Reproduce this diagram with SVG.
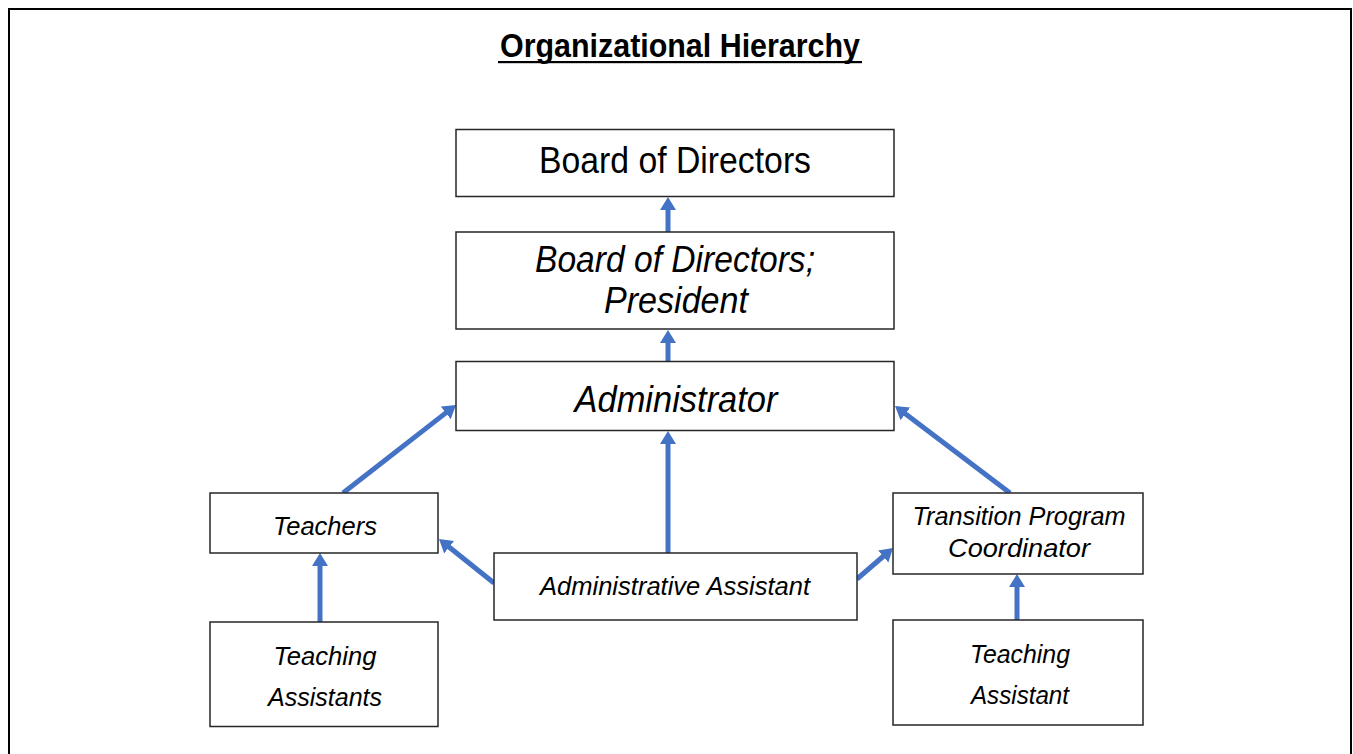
<svg xmlns="http://www.w3.org/2000/svg" width="1353" height="754" viewBox="0 0 1353 754">
  <style>
    .box { fill: #ffffff; stroke: #262626; stroke-width: 1.5; }
    .t { font-family: "Liberation Sans", Arial, sans-serif; fill: #000000; text-anchor: middle; }
    .it { font-style: italic; }
    .big { font-size: 36px; }
    .sm { font-size: 26.5px; }
    .arr { stroke: #4472C4; stroke-width: 5; fill: none; marker-end: url(#ah); }
  </style>
  <defs>
    <marker id="ah" markerUnits="userSpaceOnUse" markerWidth="14" markerHeight="17" refX="3" refY="8" orient="auto" viewBox="0 0 14 16">
      <path d="M0,0 L13,8 L0,16 z" fill="#4472C4"/>
    </marker>
  </defs>
  <rect width="1353" height="754" fill="#ffffff"/>
  <path d="M9,754 V9 H1351 V754" fill="none" stroke="#000000" stroke-width="2"/>

  <g id="title">
    <text class="t" x="680" y="57" font-size="33" font-weight="bold" textLength="360" lengthAdjust="spacingAndGlyphs">Organizational Hierarchy</text>
    <rect x="498" y="61" width="364" height="2.2" fill="#000000"/>
  </g>

  <g id="connectors">
    <line class="arr" x1="668" y1="232" x2="668" y2="207"/>
    <line class="arr" x1="668" y1="361" x2="668" y2="340"/>
    <line class="arr" x1="668" y1="553" x2="668" y2="441"/>
    <line class="arr" x1="343" y1="493" x2="448.1" y2="411.1"/>
    <line class="arr" x1="1010" y1="493" x2="903" y2="412"/>
    <line class="arr" x1="494" y1="583" x2="446.8" y2="545.3"/>
    <line class="arr" x1="857" y1="579" x2="885.4" y2="554.5"/>
    <line class="arr" x1="320" y1="622" x2="320" y2="563"/>
    <line class="arr" x1="1017" y1="620" x2="1017" y2="584"/>
  </g>

  <g id="board">
    <rect class="box" x="456" y="129.5" width="438" height="67"/>
    <text class="t big" x="675" y="173" textLength="272" lengthAdjust="spacingAndGlyphs">Board of Directors</text>
  </g>

  <g id="president">
    <rect class="box" x="456" y="232" width="438" height="97"/>
    <text class="t big it" x="675" y="272" textLength="280" lengthAdjust="spacingAndGlyphs">Board of Directors;</text>
    <text class="t big it" x="676" y="313" textLength="144" lengthAdjust="spacingAndGlyphs">President</text>
  </g>

  <g id="administrator">
    <rect class="box" x="456" y="361.5" width="438" height="69"/>
    <text class="t big it" x="676" y="412" textLength="203" lengthAdjust="spacingAndGlyphs">Administrator</text>
  </g>

  <g id="teachers">
    <rect class="box" x="210" y="493" width="228" height="60"/>
    <text class="t sm it" x="325" y="535" textLength="104" lengthAdjust="spacingAndGlyphs">Teachers</text>
  </g>

  <g id="teaching-assistants">
    <rect class="box" x="210" y="622" width="228" height="104.5"/>
    <text class="t sm it" x="325" y="665" textLength="103" lengthAdjust="spacingAndGlyphs">Teaching</text>
    <text class="t sm it" x="325" y="706" textLength="114" lengthAdjust="spacingAndGlyphs">Assistants</text>
  </g>

  <g id="admin-assistant">
    <rect class="box" x="494" y="553" width="363" height="67"/>
    <text class="t sm it" x="675" y="595" textLength="270" lengthAdjust="spacingAndGlyphs">Administrative Assistant</text>
  </g>

  <g id="transition-coordinator">
    <rect class="box" x="893" y="493" width="250" height="81"/>
    <text class="t sm it" x="1019" y="525" textLength="213" lengthAdjust="spacingAndGlyphs">Transition Program</text>
    <text class="t sm it" x="1019" y="557" textLength="142" lengthAdjust="spacingAndGlyphs">Coordinator</text>
  </g>

  <g id="teaching-assistant">
    <rect class="box" x="893" y="620" width="250" height="105"/>
    <text class="t sm it" x="1020" y="663" textLength="100" lengthAdjust="spacingAndGlyphs">Teaching</text>
    <text class="t sm it" x="1020" y="704" textLength="98" lengthAdjust="spacingAndGlyphs">Assistant</text>
  </g>
</svg>
